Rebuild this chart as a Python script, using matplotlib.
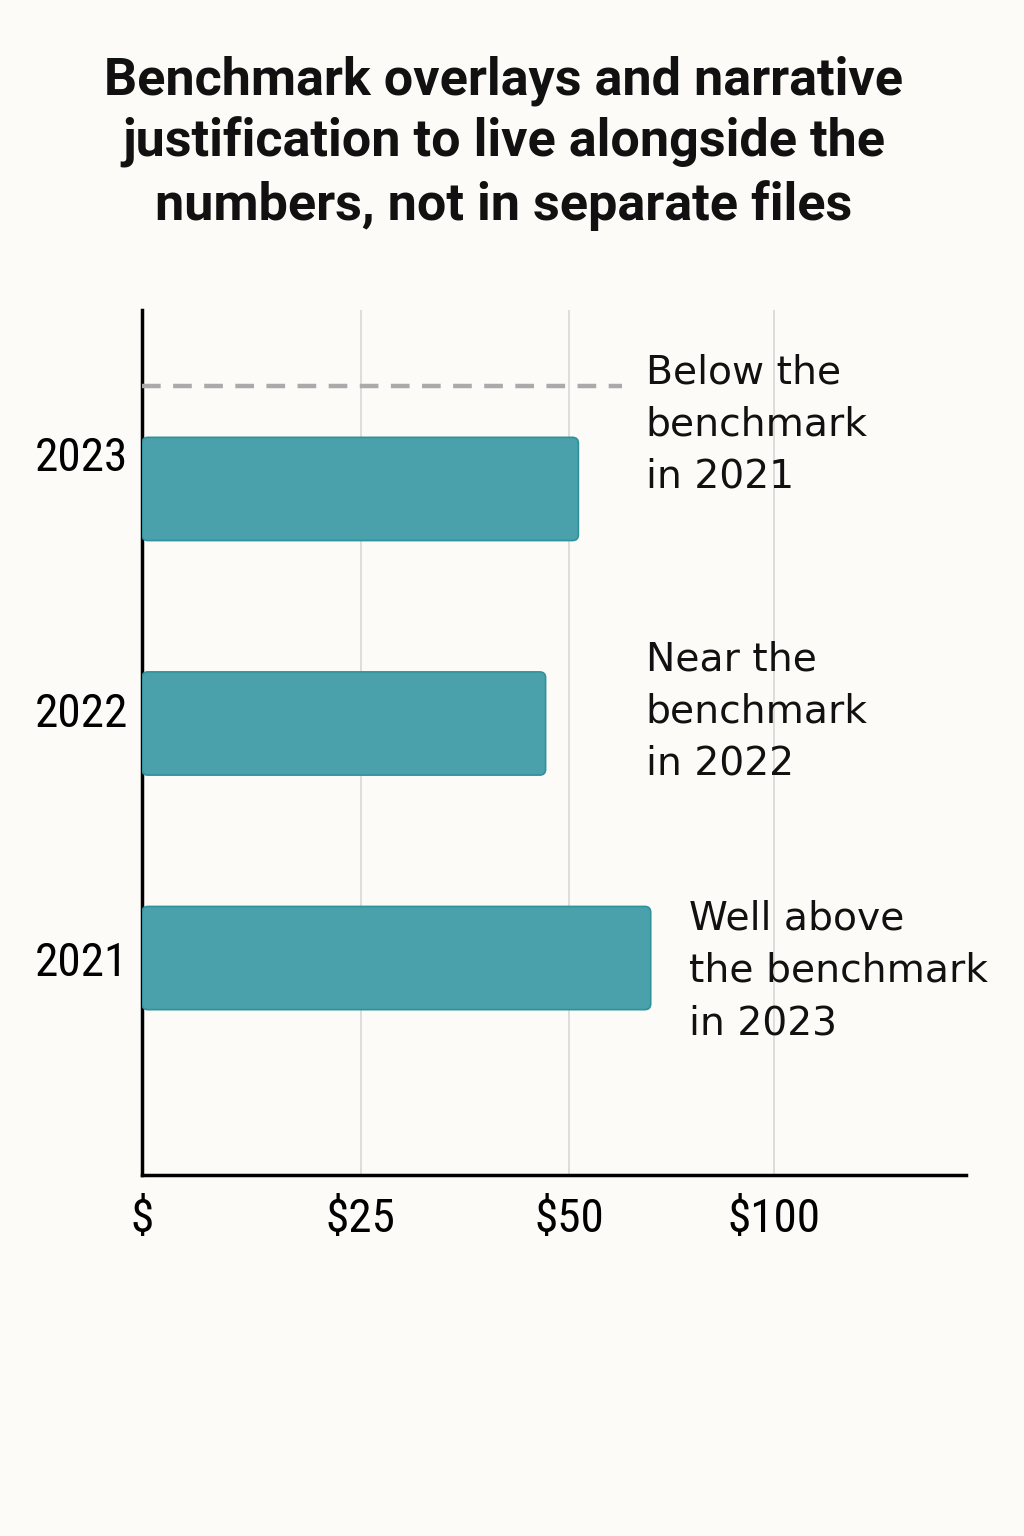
import matplotlib.pyplot as plt
from matplotlib.patches import FancyBboxPatch

# data
years = ['2021', '2022', '2023']
values = [60.5, 48.0, 51.9]
label_pos = [0.0, 1.06, 2.15]
benchmark = 57.1
tick_pos = [0, 26, 50.8, 75.2]
tick_labels = ['$', '$25', '$50', '$100']
notes = ['Well above\nthe benchmark\nin 2023',
         'Near the\nbenchmark\nin 2022',
         'Below the\nbenchmark\nin 2021']
note_x = [65.0, 59.9, 59.9]
note_y = [-0.055, 1.05, 2.276]

bg = '#FCFBF8'
teal = '#4AA1AB'
edge = '#2F929B'

fig = plt.figure(figsize=(10.24, 15.36), dpi=100, facecolor=bg)
ax = fig.add_axes([142/1024, 1 - 1175/1536, (966-142)/1024, (1175-310)/1536])
ax.set_facecolor(bg)

ypos = list(range(len(years)))
bars = ax.barh(ypos, values, height=0.44, color=teal)
for b in bars:
    x0, y0, w, h = b.get_x(), b.get_y(), b.get_width(), b.get_height()
    b.remove()
    p = FancyBboxPatch((x0, y0), w, h,
                       boxstyle='round,pad=0,rounding_size=0.7',
                       mutation_aspect=8.4/234.5,
                       facecolor=teal, edgecolor=edge, linewidth=1.2, zorder=3)
    ax.add_patch(p)

ax.plot([0, benchmark], [2.44, 2.44], color='#AAAAAA', lw=3.2,
        dashes=(4.2, 2.8), zorder=3)

ax.set_xlim(0, 98)
ax.set_ylim(-0.925, 2.763)

ax.set_xticks(tick_pos)
ax.set_xticklabels(tick_labels)
ax.set_yticks(label_pos)
ax.set_yticklabels(years)

tick_font = ['Roboto Condensed', 'Roboto', 'DejaVu Sans']
for lab in ax.get_xticklabels() + ax.get_yticklabels():
    lab.set_family(tick_font)
    lab.set_fontsize(34)

ax.tick_params(axis='x', length=0, pad=16)
ax.tick_params(axis='y', length=0, pad=10)

ax.grid(axis='x', color='#DDDDDD', lw=1.4, zorder=0)
ax.set_axisbelow(True)

for s in ['top', 'right']:
    ax.spines[s].set_visible(False)
for s in ['left', 'bottom']:
    ax.spines[s].set_color('black')
    ax.spines[s].set_linewidth(2.5)

for t, x, y in zip(notes, note_x, note_y):
    ax.text(x, y, t, fontsize=28.3, family='DejaVu Sans', va='center', ha='left',
            linespacing=1.47, color='#111111', zorder=1)

fig.text(0.492, 1 - 143/1536,
         'Benchmark overlays and narrative\njustification to live alongside the\nnumbers, not in separate files',
         ha='center', va='center', fontsize=37.5, fontweight='bold',
         family=['Roboto', 'DejaVu Sans'], linespacing=1.28, color='#111111')

fig.savefig('out.png', dpi=100, facecolor=bg)
